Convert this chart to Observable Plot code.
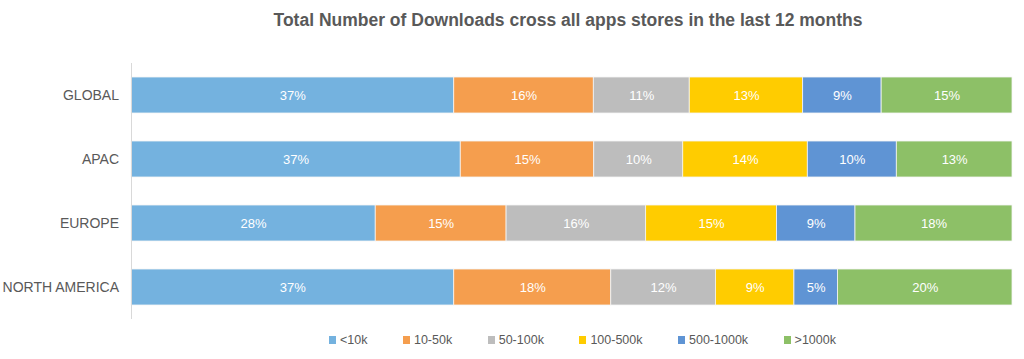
<!DOCTYPE html>
<html>
<head>
<meta charset="utf-8">
<script src="https://cdn.jsdelivr.net/npm/d3@7"></script>
<script src="https://cdn.jsdelivr.net/npm/@observablehq/plot@0.6"></script>
<style>
  body { margin: 0; background: #fff; font-family: "Liberation Sans", Arial, Helvetica, sans-serif; }
  #title { height: 40px; line-height: 40px; text-align: center; padding-left: 112px; box-sizing: border-box;
           font-size: 17.5px; font-weight: bold; color: #595959; white-space: nowrap; }
  #chart svg { display: block; }
  #legend { display: flex; padding-left: 329px; padding-top: 8px; font-size: 12.5px; color: #595959; }
  .item { display: flex; align-items: center; margin-right: 35.5px; }
  .sw { width: 7px; height: 8px; margin-right: 4px; }
</style>
</head>
<body>
<div id="title">Total Number of Downloads cross all apps stores in the last 12 months</div>
<div id="chart"></div>
<div id="legend"></div>
<script>
const regions = ["GLOBAL", "APAC", "EUROPE", "NORTH AMERICA"];
const categories = ["<10k", "10-50k", "50-100k", "100-500k", "500-1000k", ">1000k"];
const colors = ["#74B2DF", "#F59E4E", "#BDBDBD", "#FFCC00", "#5F94D4", "#8DC067"];
const valuesLt10k     = [37, 37, 28, 37];
const values10to50k   = [16, 15, 15, 18];
const values50to100k  = [11, 10, 16, 12];
const values100to500k = [13, 14, 15, 9];
const values500to1000k = [9, 10, 9, 5];
const valuesGt1000k   = [15, 13, 18, 20];

const series = [valuesLt10k, values10to50k, values50to100k, values100to500k, values500to1000k, valuesGt1000k];
const data = [];
regions.forEach((r, i) => {
  categories.forEach((c, j) => {
    data.push({region: r, cat: c, value: series[j][i]});
  });
});

const chart = Plot.plot({
  width: 1024,
  height: 285,
  marginTop: 23,
  marginBottom: 6,
  marginLeft: 131,
  marginRight: 12,
  style: {fontFamily: '"Liberation Sans", Arial, Helvetica, sans-serif', color: "#595959", background: "#fff"},
  x: {axis: null, domain: [0, 1]},
  y: {domain: regions, paddingInner: 0.4375, paddingOuter: 0.21875, label: null},
  color: {domain: categories, range: colors},
  marks: [
    Plot.barX(data, Plot.stackX({x: "value", y: "region", fill: "cat", z: "cat", offset: "normalize", stroke: "#f4f4f4", strokeWidth: 0.8})),
    Plot.textX(data, Plot.stackX({x: "value", y: "region", z: "cat", offset: "normalize", text: d => d.value + "%", fill: "white", fontSize: 13})),
    Plot.axisY({tickSize: 0, tickPadding: 12.5, fontSize: 14, label: null}),
    Plot.ruleX([0], {stroke: "#d9d9d9", insetLeft: -1})
  ]
});
document.getElementById("chart").appendChild(chart);

const legend = document.getElementById("legend");
categories.forEach((c, j) => {
  const item = document.createElement("div");
  item.className = "item";
  const sw = document.createElement("span");
  sw.className = "sw";
  sw.style.background = colors[j];
  const t = document.createElement("span");
  t.textContent = c;
  item.appendChild(sw);
  item.appendChild(t);
  legend.appendChild(item);
});
</script>
</body>
</html>
